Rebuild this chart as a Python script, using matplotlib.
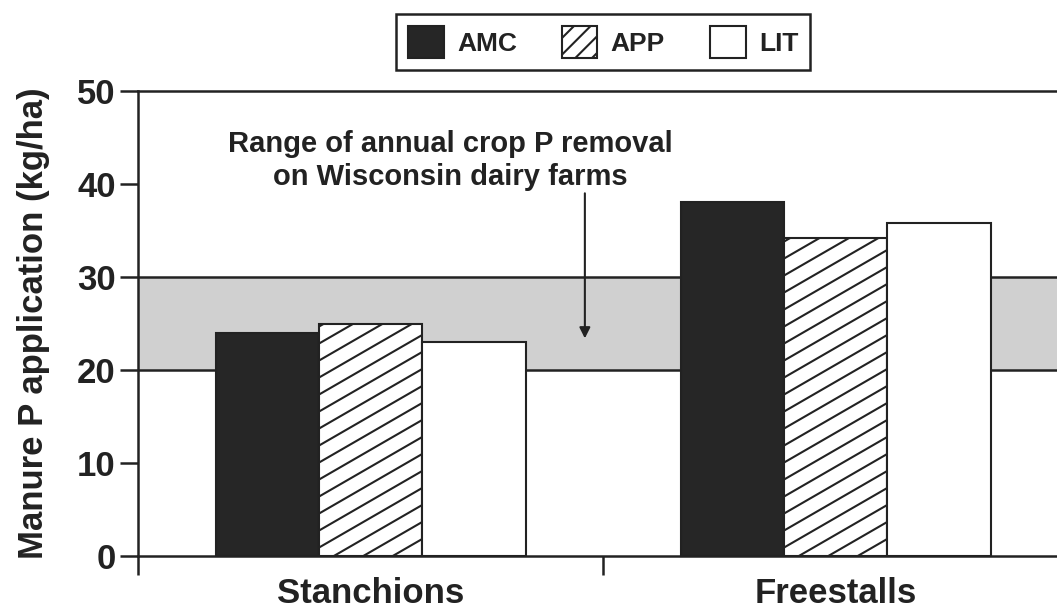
import matplotlib
matplotlib.use('Agg')
import matplotlib.pyplot as plt
import numpy as np
from matplotlib.patches import Patch
from matplotlib.collections import LineCollection
from matplotlib.transforms import IdentityTransform

housing = ['Stanchions', 'Freestalls']
series = ['AMC', 'APP', 'LIT']
amc = [24.0, 38.1]
app = [25.0, 34.2]
lit = [23.0, 35.8]
band_low, band_high = 20, 30
yticks = [0, 10, 20, 30, 40, 50]
note = 'Range of annual crop P removal\non Wisconsin dairy farms'

dark = '#222222'
plt.rcParams['font.family'] = ['Liberation Sans', 'DejaVu Sans']
plt.rcParams['font.weight'] = 'bold'
plt.rcParams['axes.labelweight'] = 'bold'
plt.rcParams['hatch.linewidth'] = 1.5
plt.rcParams['hatch.color'] = dark

fig = plt.figure(figsize=(10.57, 6.09), dpi=100)
ax = fig.add_axes([138/1057, 53/609, 930/1057, 465/609])

x = np.arange(len(housing))
w = 2/9

# range of crop P removal
ax.axhspan(band_low, band_high, facecolor='#d0d0d0', edgecolor='none', zorder=0)
for v in (band_low, band_high):
    ax.axhline(v, color=dark, lw=1.8, zorder=1)

b1 = ax.bar(x - w, amc, w, color='#262626', edgecolor=dark, lw=1.5, zorder=2)
b2 = ax.bar(x, app, w, color='white', edgecolor=dark, lw=1.5, zorder=2)
b3 = ax.bar(x + w, lit, w, color='white', edgecolor=dark, lw=1.5, zorder=2)

ax.set_xlim(-0.5, 1.5)
ax.set_ylim(0, 50)

# 30 degree hatching on the APP bars, drawn in pixels and clipped to the bar
slope = np.tan(np.radians(30))
for bar in b2:
    bb = bar.get_window_extent()
    run = bb.x1 - bb.x0
    cs = np.arange(bb.y0 - slope*run, bb.y1 + 17, 17)
    segs = [[(bb.x0, c), (bb.x1, c + slope*run)] for c in cs]
    lc = LineCollection(segs, colors=dark, linewidths=1.5,
                        transform=IdentityTransform(), zorder=2.5)
    ax.add_collection(lc, autolim=False)
    lc.set_clip_box(bb)
    lc.set_clip_path(None)

for s in ['left', 'bottom', 'top']:
    ax.spines[s].set_linewidth(1.8)
    ax.spines[s].set_color(dark)
ax.spines['right'].set_visible(False)

ax.set_yticks(yticks)
ax.tick_params(axis='y', length=13, width=1.8, color=dark, labelsize=25,
               labelcolor=dark, pad=3)
ax.set_xticks(x)
ax.set_xticklabels(housing)
ax.set_xticks([-0.5, 0.5, 1.5], minor=True)
ax.tick_params(axis='x', which='major', length=0, labelsize=25,
               labelcolor=dark, pad=15)
ax.tick_params(axis='x', which='minor', length=14, width=1.8, color=dark)
ax.set_ylabel('Manure P application (kg/ha)', fontsize=25, color=dark)
ax.yaxis.set_label_coords(-0.095, 0.5)

ax.annotate('', xy=(0.461, 23.4), xytext=(0.461, 39.0),
            arrowprops=dict(arrowstyle='-|>', color=dark, lw=1.5,
                            mutation_scale=16, shrinkA=0, shrinkB=0))
ax.text(0.172, 42.5, note, ha='center', va='center', fontsize=21,
        color=dark, linespacing=1.25)

handles = [Patch(facecolor='#262626', edgecolor=dark, lw=1.5),
           Patch(facecolor='white', edgecolor=dark, lw=1.5, hatch='//'),
           Patch(facecolor='white', edgecolor=dark, lw=1.5)]
leg = fig.legend(handles, series, loc='center', ncol=3,
                 bbox_to_anchor=(603/1057, 1 - 42/609), fontsize=19,
                 handlelength=1.36, handleheight=1.5, handletextpad=0.5,
                 columnspacing=1.7, borderpad=0.45, fancybox=False,
                 framealpha=1, edgecolor=dark)
leg.get_frame().set_linewidth(1.8)
for t in leg.get_texts():
    t.set_color(dark)

fig.savefig('out.png', dpi=100)
